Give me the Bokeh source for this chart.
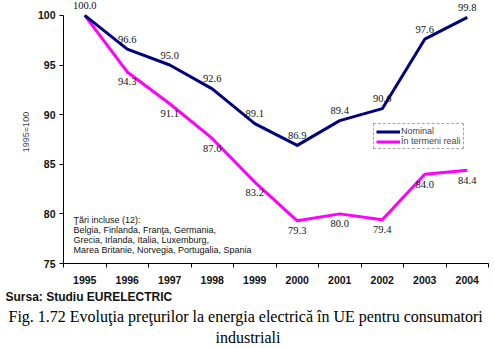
from bokeh.plotting import figure
from bokeh.models import (ColumnDataSource, LabelSet, Label, Legend, LegendItem,
                          Range1d, FixedTicker, Title)
from bokeh.embed import file_html
from bokeh.resources import INLINE

# ---- data ----
years = [1995, 1996, 1997, 1998, 1999, 2000, 2001, 2002, 2003, 2004]
nominal = [100.0, 96.6, 95.0, 92.6, 89.1, 86.9, 89.4, 90.6, 97.6, 99.8]
real = [100.0, 94.3, 91.1, 87.6, 83.2, 79.3, 80.0, 79.4, 84.0, 84.4]
series_names = ["Nominal", "În termeni reali"]
y_ticks = [75, 80, 85, 90, 95, 100]
y_label = "1995=100"
note_lines = ["Ţări incluse (12):",
              "Belgia, Finlanda, Franţa, Germania,",
              "Grecia, Irlanda, Italia, Luxemburg,",
              "Marea Britanie, Norvegia, Portugalia, Spania"]
source_text = "Sursa: Studiu EURELECTRIC"
caption_lines = ["Fig. 1.72 Evoluţia preţurilor la energia electrică în UE pentru consumatori",
                 "industriali"]

NAVY = "#000080"
MAGENTA = "#FF00FF"
SANS = "Liberation Sans"
SERIF = "Liberation Serif"

p = figure(width=495, height=348, output_backend="svg", toolbar_location=None,
           x_range=Range1d(1994.5, 2004.5), y_range=Range1d(75, 101.5),
           min_border_left=63, min_border_right=7, min_border_top=0, min_border_bottom=85)
p.outline_line_color = None
p.xgrid.visible = False
p.ygrid.visible = False
p.background_fill_color = "white"
p.border_fill_color = "white"

# x axis: labels at years, ticks at category boundaries
xax = p.xaxis[0]
xax.ticker = FixedTicker(ticks=years, minor_ticks=[y - 0.5 for y in years] + [years[-1] + 0.5])
xax.major_tick_out = 0
xax.major_tick_in = 0
xax.minor_tick_out = 4
xax.minor_tick_in = 0
xax.minor_tick_line_color = "black"
xax.axis_line_color = "black"
xax.major_label_text_font = SANS
xax.major_label_text_font_style = "bold"
xax.major_label_text_font_size = "10.5px"
xax.major_label_text_color = "#111111"
xax.major_label_standoff = 8

yax = p.yaxis[0]
yax.ticker = FixedTicker(ticks=y_ticks, minor_ticks=[])
yax.bounds = (75, 100)
yax.major_tick_out = 4
yax.major_tick_in = 0
yax.minor_tick_out = 0
yax.minor_tick_in = 0
yax.axis_line_color = "black"
yax.major_tick_line_color = "black"
yax.major_label_text_font = SANS
yax.major_label_text_font_style = "bold"
yax.major_label_text_font_size = "10.5px"
yax.major_label_text_color = "#111111"
yax.major_label_standoff = 4
yax.axis_label = y_label
yax.axis_label_text_font = SANS
yax.axis_label_text_font_style = "normal"
yax.axis_label_text_font_size = "9px"
yax.axis_label_standoff = 4

src = ColumnDataSource(dict(x=years, nom=nominal, real=real,
                            nom_txt=[f"{v:.1f}" for v in nominal]))
src_real_lbl = ColumnDataSource(dict(x=years[1:], real=real[1:],
                                     real_txt=[f"{v:.1f}" for v in real[1:]]))

r_real = p.line("x", "real", source=src, line_color=MAGENTA, line_width=3, line_join="round")
r_nom = p.line("x", "nom", source=src, line_color=NAVY, line_width=3, line_join="round")

p.add_layout(LabelSet(x="x", y="nom", text="nom_txt", source=src, y_offset=10,
                      text_align="center", text_baseline="middle",
                      text_font=SANS, text_font_size="10.5px", text_color="#111111"))
p.add_layout(LabelSet(x="x", y="real", text="real_txt", source=src_real_lbl, y_offset=-10,
                      text_align="center", text_baseline="middle",
                      text_font=SANS, text_font_size="10.5px", text_color="#111111"))

legend = Legend(items=[LegendItem(label=series_names[0], renderers=[r_nom]),
                       LegendItem(label=series_names[1], renderers=[r_real])],
                location=(310, 114))
legend.border_line_color = "#555555"
legend.border_line_dash = "dotted"
legend.border_line_width = 1
legend.background_fill_color = "white"
legend.padding = 2
legend.spacing = 0
legend.margin = 0
legend.label_text_font = SANS
legend.label_text_font_size = "9px"
legend.label_height = 9
legend.glyph_height = 9
legend.glyph_width = 24
legend.label_standoff = 1
p.add_layout(legend)

p.add_layout(Label(x=10, y=49, x_units="screen", y_units="screen",
                   text="\n".join(note_lines), text_baseline="top", text_align="left",
                   text_font=SANS, text_font_size="9px", text_line_height=1.0,
                   text_color="#111111"))

t_src = Title(text=source_text, align="left", offset=-58, standoff=2,
              text_font=SANS, text_font_style="bold", text_font_size="12px",
              text_color="#111111")
t_cap1 = Title(text=caption_lines[0], align="left", offset=-55, standoff=2,
               text_font=SERIF, text_font_style="normal", text_font_size="16px",
               text_color="black")
t_cap2 = Title(text=caption_lines[1], align="left", offset=152, standoff=2,
               text_font=SERIF, text_font_style="normal", text_font_size="16px",
               text_color="black")
p.add_layout(t_src, "below")
p.add_layout(t_cap1, "below")
p.add_layout(t_cap2, "below")

open("out.html", "w").write(file_html(p, INLINE))
